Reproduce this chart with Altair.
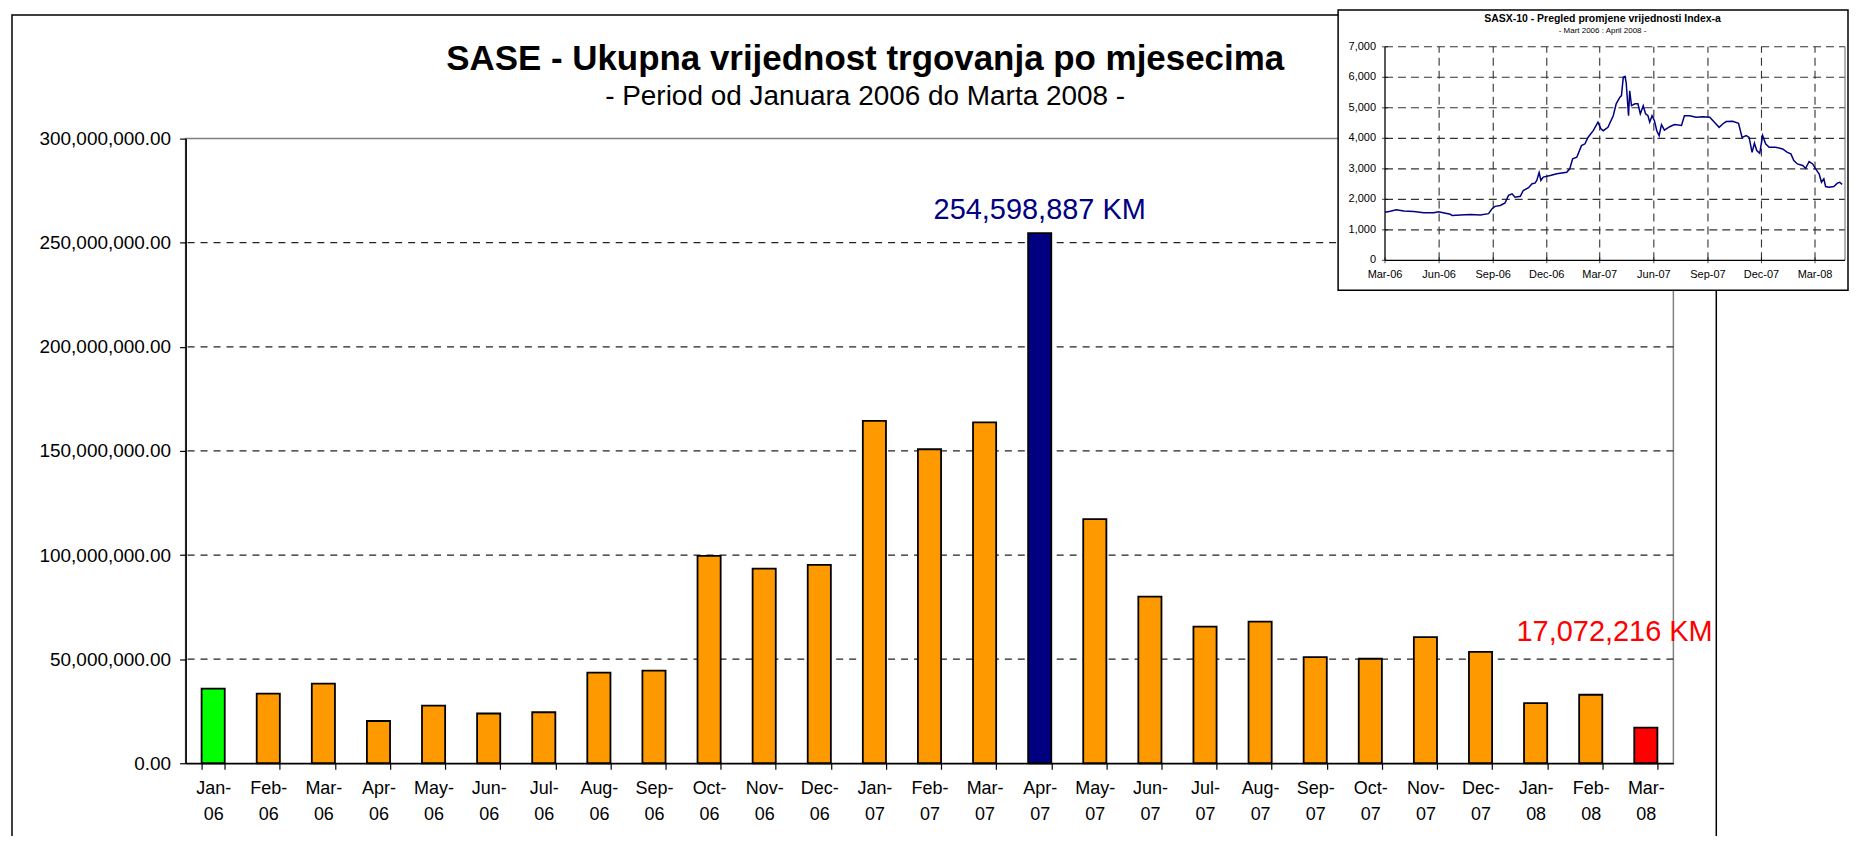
import altair as alt
import pandas as pd

FONT = "Liberation Sans"

# ---------------- main chart data ----------------
months = ["Jan-06", "Feb-06", "Mar-06", "Apr-06", "May-06", "Jun-06", "Jul-06", "Aug-06", "Sep-06",
          "Oct-06", "Nov-06", "Dec-06", "Jan-07", "Feb-07", "Mar-07", "Apr-07", "May-07", "Jun-07",
          "Jul-07", "Aug-07", "Sep-07", "Oct-07", "Nov-07", "Dec-07", "Jan-08", "Feb-08", "Mar-08"]
values = [35800000, 33400000, 38200000, 20300000, 27700000, 23900000, 24500000, 43500000, 44500000,
          99600000, 93500000, 95300000, 164400000, 150800000, 163700000, 254598887, 117300000, 80000000,
          65600000, 68000000, 51000000, 50200000, 60600000, 53500000, 28900000, 32900000, 17072216]
y_ticks = [0, 50000000, 100000000, 150000000, 200000000, 250000000, 300000000]

# ---------------- inset (SASX-10) data ----------------
idx_dates = ["2006-03-01", "2006-03-10", "2006-03-20", "2006-04-02", "2006-04-19", "2006-05-06", "2006-05-23",
             "2006-05-31", "2006-06-20", "2006-06-23", "2006-07-07", "2006-07-24", "2006-08-10", "2006-08-24",
             "2006-08-30", "2006-09-04", "2006-09-13", "2006-09-21", "2006-09-27", "2006-10-03", "2006-10-08",
             "2006-10-17", "2006-10-22", "2006-10-31", "2006-11-06", "2006-11-11", "2006-11-14", "2006-11-18",
             "2006-11-21", "2006-11-25", "2006-12-07", "2006-12-18", "2007-01-04", "2007-01-09", "2007-01-14",
             "2007-01-21", "2007-01-29", "2007-02-04", "2007-02-09", "2007-02-18", "2007-02-26", "2007-03-03",
             "2007-03-07", "2007-03-15", "2007-03-24", "2007-03-29", "2007-04-04", "2007-04-07", "2007-04-10",
             "2007-04-13", "2007-04-15", "2007-04-19", "2007-04-21", "2007-04-24", "2007-04-30", "2007-05-05",
             "2007-05-09", "2007-05-14", "2007-05-18", "2007-05-22", "2007-05-25", "2007-05-29", "2007-06-02",
             "2007-06-06", "2007-06-10", "2007-06-14", "2007-06-19", "2007-06-28", "2007-07-06", "2007-07-18",
             "2007-07-23", "2007-08-01", "2007-08-12", "2007-08-23", "2007-09-04", "2007-09-12", "2007-09-20",
             "2007-09-26", "2007-10-02", "2007-10-13", "2007-10-23", "2007-10-29", "2007-11-05", "2007-11-10",
             "2007-11-15", "2007-11-19", "2007-11-23", "2007-11-28", "2007-12-03", "2007-12-08", "2007-12-14",
             "2007-12-25", "2008-01-06", "2008-01-14", "2008-01-20", "2008-01-25", "2008-01-31", "2008-02-09",
             "2008-02-14", "2008-02-20", "2008-02-26", "2008-03-02", "2008-03-08", "2008-03-12", "2008-03-16",
             "2008-03-19", "2008-03-25", "2008-04-02", "2008-04-08", "2008-04-12", "2008-04-16"]
idx_values = [1580, 1610, 1660, 1615, 1600, 1560, 1560, 1590, 1510, 1470, 1490, 1500, 1490, 1530,
              1690, 1770, 1800, 1880, 2130, 2180, 2070, 2100, 2290, 2380, 2510, 2530, 2620, 2880,
              2620, 2730, 2780, 2840, 2890, 3000, 3330, 3380, 3760, 3820, 4030, 4250, 4530, 4310,
              4250, 4360, 4740, 5130, 5340, 5400, 6000, 6030, 5830, 4740, 5560, 5070, 5130, 5130,
              4800, 5070, 4800, 4740, 4530, 4740, 4580, 4250, 4090, 4450, 4270, 4380, 4450, 4420,
              4740, 4740, 4690, 4710, 4690, 4530, 4360, 4470, 4550, 4560, 4490, 4030, 4090, 4030,
              3540, 3840, 3600, 3510, 4090, 3820, 3710, 3710, 3650, 3540, 3490, 3270, 3160, 3110,
              3020, 3240, 3160, 3000, 2840, 2560, 2670, 2420, 2400, 2420, 2530, 2560, 2490]
inset_tick_dates = ["2006-03-01", "2006-06-01", "2006-09-01", "2006-12-01", "2007-03-01",
                    "2007-06-01", "2007-09-01", "2007-12-01", "2008-03-01"]
inset_tick_labels = ["Mar-06", "Jun-06", "Sep-06", "Dec-06", "Mar-07", "Jun-07", "Sep-07", "Dec-07", "Mar-08"]
inset_y_ticks = [0, 1000, 2000, 3000, 4000, 5000, 6000, 7000]
inset_start = "2006-03-01"
inset_end = "2008-04-21"

# ---------------- styles ----------------
highlight = {"Jan-06": "#00FF00", "Apr-07": "#000080", "Mar-08": "#FF0000"}
fill_range = [highlight.get(m, "#FF9900") for m in months]

df = pd.DataFrame({"month": months, "value": values})
one = pd.DataFrame({"a": [0]})

x_axis = alt.Axis(title=None, labelAngle=0, labelFont=FONT, labelFontSize=18, labelColor="black",
                  labelExpr="datum.label ? [split(datum.label, '-')[0] + '-', split(datum.label, '-')[1]] : ''",
                  labelLineHeight=26, labelPadding=10, tickBand="extent", tickSize=6,
                  tickColor="black", tickWidth=1.2, domainColor="black", domainWidth=1.6, grid=False)
y_axis = alt.Axis(title=None, values=y_ticks, format=",.2f", labelFont=FONT, labelFontSize=19,
                  labelColor="black", tickSize=6, tickColor="black", tickWidth=1.2, labelPadding=9,
                  domainColor="black", domainWidth=1.6, grid=False)
x_scale = alt.Scale(paddingInner=0.58, paddingOuter=0.29)
y_scale = alt.Scale(domain=[0, 300000000], nice=False)

x_enc = alt.X("month:N", sort=months, scale=x_scale, axis=x_axis)
y_enc = alt.Y("value:Q", scale=y_scale, axis=y_axis)

frame = alt.Chart(one).mark_rect(fill="white", fillOpacity=0, stroke="black", strokeWidth=1.5).encode(
    x=alt.value(-174), x2=alt.value(1534), y=alt.value(-124), y2=alt.value(720))

grid = alt.Chart(pd.DataFrame({"value": y_ticks[1:-1]})).mark_rule(
    strokeDash=[7, 6], color="#222222", strokeWidth=1.2).encode(y=y_enc)

bars = alt.Chart(df).mark_bar(stroke="black", strokeWidth=1.8).encode(
    x=x_enc, y=y_enc,
    fill=alt.Fill("month:N", scale=alt.Scale(domain=months, range=fill_range), legend=None))

ann_max = alt.Chart(df).transform_filter(alt.datum.month == "Apr-07").transform_calculate(
    label="format(datum.value, ',') + ' KM'").mark_text(
    font=FONT, fontSize=29, color="#000080", baseline="alphabetic", dy=-14).encode(
    x=x_enc, y=y_enc, text="label:N")

ann_last = alt.Chart(df).transform_filter(alt.datum.month == "Mar-08").transform_calculate(
    label="format(datum.value, ',') + ' KM'").mark_text(
    font=FONT, fontSize=29, color="#FF0000", baseline="alphabetic", align="right", dx=67, dy=-87).encode(
    x=x_enc, y=y_enc, text="label:N")

title = alt.Chart(one).mark_text(text="SASE - Ukupna vrijednost trgovanja po mjesecima", font=FONT,
                                 fontSize=35, fontWeight="bold", align="center", baseline="alphabetic",
                                 color="black").encode(x=alt.value(681), y=alt.value(-69))
subtitle = alt.Chart(one).mark_text(text="- Period od Januara 2006 do Marta 2008 -", font=FONT,
                                    fontSize=28, align="center", baseline="alphabetic",
                                    color="black").encode(x=alt.value(681), y=alt.value(-34))

main = alt.layer(frame, grid, bars, ann_max, ann_last, title, subtitle)

# ---------------- inset ----------------
ixs = alt.Scale(domain=[alt.DateTime(year=2006, month=3, date=1, utc=True),
                        alt.DateTime(year=2008, month=4, date=21, utc=True)], range=[1202, 1663])
iys = alt.Scale(domain=[0, 7000], range=[122, -92], nice=False, zero=False)

box = alt.Chart(one).mark_rect(fill="white", stroke="black", strokeWidth=1.5).encode(
    x=alt.value(1155), x2=alt.value(1666), y=alt.value(-129), y2=alt.value(152))

hg = pd.DataFrame({"v": inset_y_ticks[1:], "s": inset_start, "e": inset_end})
hgrid = alt.Chart(hg).mark_rule(strokeDash=[8, 5], color="#333333", strokeWidth=1.1).encode(
    x=alt.X("s:T", scale=ixs, axis=None), x2="e:T", y=alt.Y("v:Q", scale=iys, axis=None))

vg = pd.DataFrame({"d": inset_tick_dates[1:], "y0": 0, "y1": 7000})
vgrid = alt.Chart(vg).mark_rule(strokeDash=[8, 5], color="#333333", strokeWidth=1.1).encode(
    x=alt.X("d:T", scale=ixs, axis=None), y=alt.Y("y0:Q", scale=iys, axis=None), y2="y1:Q")

rb = pd.DataFrame({"d": [inset_end], "y0": [0], "y1": [7000]})
right_border = alt.Chart(rb).mark_rule(color="#808080", strokeWidth=1.2).encode(
    x=alt.X("d:T", scale=ixs, axis=None), y=alt.Y("y0:Q", scale=iys, axis=None), y2="y1:Q")

la = pd.DataFrame({"d": [inset_start], "y0": [0], "y1": [7000]})
left_axis = alt.Chart(la).mark_rule(color="black", strokeWidth=1.3).encode(
    x=alt.X("d:T", scale=ixs, axis=None), y=alt.Y("y0:Q", scale=iys, axis=None), y2="y1:Q")

ba = pd.DataFrame({"s": [inset_start], "e": [inset_end], "v": [0]})
bottom_axis = alt.Chart(ba).mark_rule(color="black", strokeWidth=1.3).encode(
    x=alt.X("s:T", scale=ixs, axis=None), x2="e:T", y=alt.Y("v:Q", scale=iys, axis=None))

xt = pd.DataFrame({"d": inset_tick_dates, "lab": inset_tick_labels, "z": 0})
xticks = alt.Chart(xt).mark_tick(orient="vertical", size=6, thickness=1, color="black").encode(
    x=alt.X("d:T", scale=ixs, axis=None), y=alt.Y("z:Q", scale=iys, axis=None))
xlabels = alt.Chart(xt).mark_text(font=FONT, fontSize=11, color="black", baseline="alphabetic",
                                  dy=18).encode(
    x=alt.X("d:T", scale=ixs, axis=None), y=alt.Y("z:Q", scale=iys, axis=None), text="lab:N")

yt = pd.DataFrame({"v": inset_y_ticks, "s": inset_start})
yticks = alt.Chart(yt).mark_tick(orient="horizontal", size=6, thickness=1, color="black").encode(
    x=alt.X("s:T", scale=ixs, axis=None), y=alt.Y("v:Q", scale=iys, axis=None))
ylabels = alt.Chart(yt).mark_text(font=FONT, fontSize=11, color="black", align="right",
                                  baseline="middle", dx=-9).encode(
    x=alt.X("s:T", scale=ixs, axis=None), y=alt.Y("v:Q", scale=iys, axis=None),
    text=alt.Text("v:Q", format=","))

idx_df = pd.DataFrame({"date": idx_dates, "value": idx_values})
line = alt.Chart(idx_df).mark_line(color="#000080", strokeWidth=1.5).encode(
    x=alt.X("date:T", scale=ixs, axis=None), y=alt.Y("value:Q", scale=iys, axis=None))

ititle = alt.Chart(one).mark_text(text="SASX-10 - Pregled promjene vrijednosti Index-a", font=FONT,
                                  fontSize=10.5, fontWeight="bold", align="center", baseline="alphabetic",
                                  color="black").encode(x=alt.value(1420), y=alt.value(-117))
isub = alt.Chart(one).mark_text(text="- Mart 2006 : April 2008 -", font=FONT, fontSize=8,
                                align="center", baseline="alphabetic", color="black").encode(
    x=alt.value(1420), y=alt.value(-106))

inset = alt.layer(box, hgrid, vgrid, right_border, left_axis, bottom_axis, xticks, yticks,
                  line, xlabels, ylabels, ititle, isub)

chart = alt.layer(main, inset).resolve_scale(x="independent", y="independent").properties(
    width=1491, height=626,
    padding={"left": 178, "top": 130, "right": 176, "bottom": 72},
    autosize=alt.AutoSizeParams(type="none"),
    background="white",
).configure_view(stroke="#808080", strokeWidth=1.5)

chart.save("out.html", embed_options={"renderer": "svg", "actions": False})
